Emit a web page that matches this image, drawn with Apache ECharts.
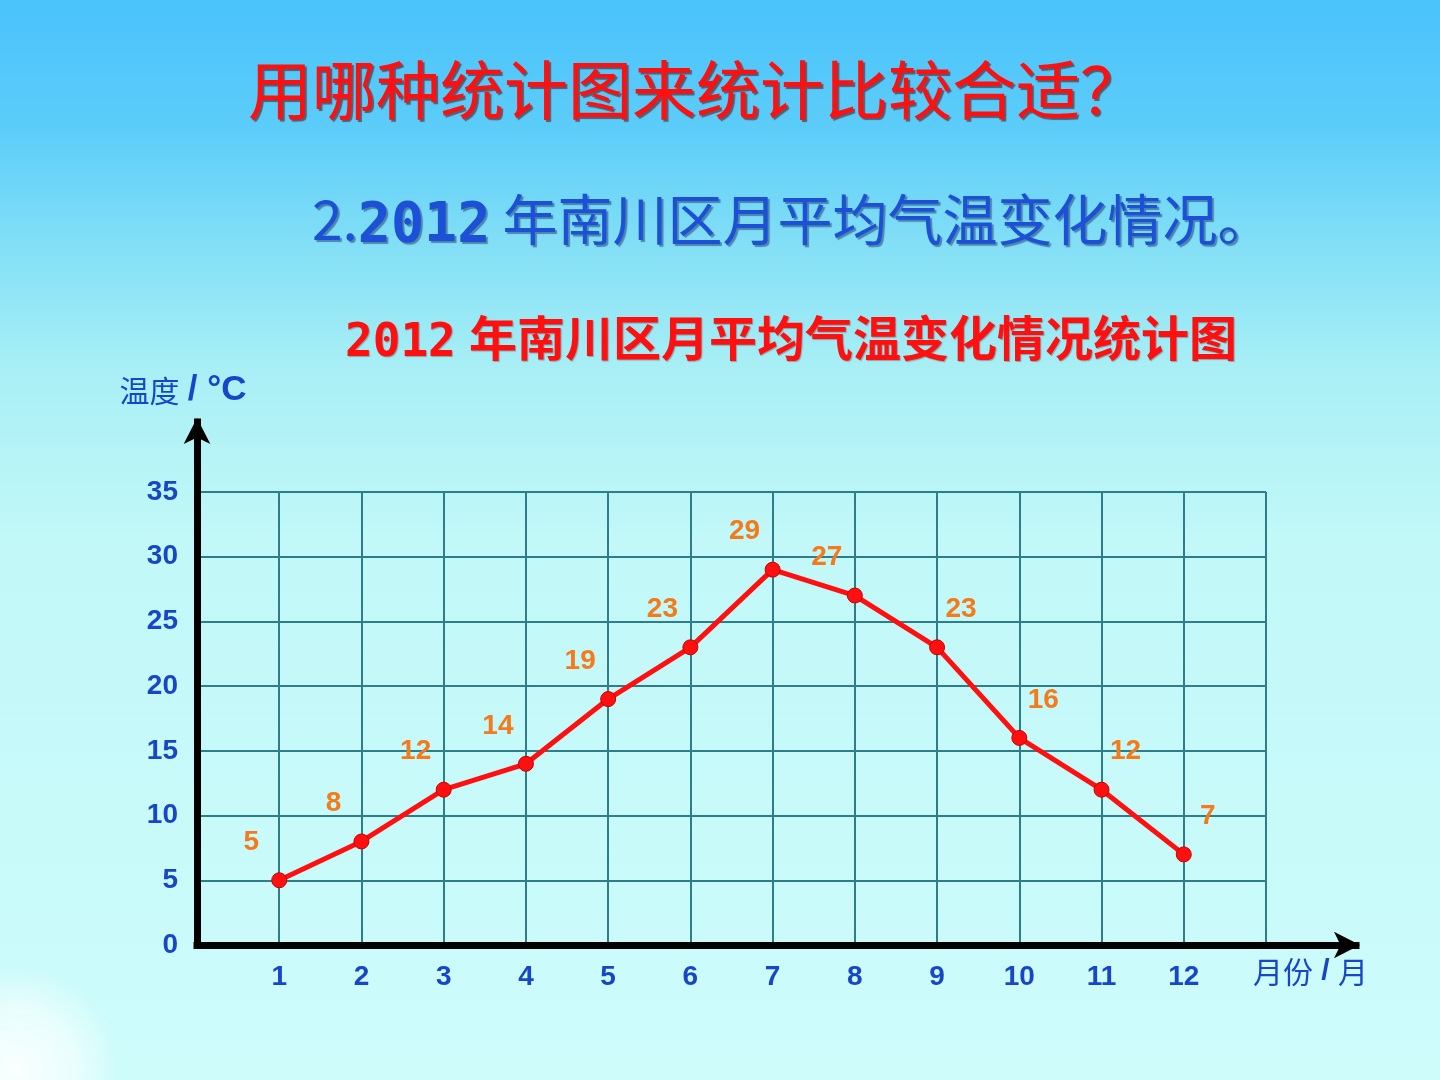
<!DOCTYPE html>
<html>
<head>
<meta charset="utf-8">
<script src="https://cdn.jsdelivr.net/npm/echarts@6/dist/echarts.min.js"></script>
<style>html,body{margin:0;padding:0;}#c{width:1440px;height:1080px;}</style>
</head>
<body>
<div id="c"></div>
<script>
const months = [1, 2, 3, 4, 5, 6, 7, 8, 9, 10, 11, 12];
const temps = [5, 8, 12, 14, 19, 23, 29, 27, 23, 16, 12, 7];
const yTicks = [0, 5, 10, 15, 20, 25, 30, 35];
const headline = '用哪种统计图来统计比较合适？';
const subNo = '2.';
const year = '2012';
const subText = '年南川区月平均气温变化情况。';
const chartText = '年南川区月平均气温变化情况统计图';
const yNameCn = '温度';
const yNameUnit = '/ °C';
const xNameCn = '月份';
const xNameUnit = '/';
const xNameTail = '月';

const CJK = '"Noto Sans CJK SC", "Liberation Sans", sans-serif';
const LAT = '"Liberation Sans", Arial, sans-serif';
const MONO = '"DejaVu Sans Mono", monospace';
const blue = '#1746c8';
const subBlue = '#1c50d6';
const red = '#ff1010';
const peakIdx = temps.indexOf(Math.max(...temps));

const blueShadow = {textShadowColor: 'rgba(0,0,60,0.4)', textShadowOffsetX: 2, textShadowOffsetY: 2, textShadowBlur: 1};
const redShadow = {textShadowColor: 'rgba(60,0,0,0.3)', textShadowOffsetX: 1, textShadowOffsetY: 1, textShadowBlur: 1};

const chart = echarts.init(document.getElementById('c'));
chart.setOption({
  backgroundColor: {
    type: 'linear', x: 0, y: 0, x2: 0, y2: 1,
    colorStops: [
      {offset: 0, color: '#4ac2fb'},
      {offset: 0.12, color: '#5ccdf9'},
      {offset: 0.22, color: '#80def6'},
      {offset: 0.34, color: '#a8eff5'},
      {offset: 0.5, color: '#c2f8f8'},
      {offset: 1, color: '#cdfcfb'}
    ]
  },
  graphic: [{
    type: 'circle', shape: {cx: 15, cy: 1070, r: 105},
    style: {fill: {type: 'radial', x: 0.5, y: 0.5, r: 0.5, colorStops: [
      {offset: 0, color: 'rgba(255,255,255,0.9)'},
      {offset: 0.6, color: 'rgba(255,255,255,0.55)'},
      {offset: 1, color: 'rgba(255,255,255,0)'}]}},
    silent: true, z: -1
  }],
  title: [
    {text: headline, left: 248, top: 58, padding: 0,
      textStyle: {fontFamily: CJK, fontSize: 64, fontWeight: 'normal', color: red,
        textShadowColor: 'rgba(80,0,0,0.55)', textShadowOffsetX: 2, textShadowOffsetY: 2, textShadowBlur: 1}},
    {text: '{a|' + subNo + '}{n|' + year + '}{s| }{a|' + subText + '}', left: 312, top: 185, padding: 0,
      textStyle: {color: subBlue, fontWeight: 'normal',
        rich: {
          a: Object.assign({fontFamily: CJK, fontSize: 55, fontWeight: 'normal', color: subBlue}, blueShadow),
          s: {fontFamily: LAT, fontSize: 44, fontWeight: 'normal', color: subBlue},
          n: Object.assign({fontFamily: MONO, fontSize: 55, fontWeight: 'bold', color: subBlue, padding: [14, 0, 0, 0]}, blueShadow)
        }}},
    {text: '{n|' + year + '}{s| }{a|' + chartText + '}', left: 345, top: 309, padding: 0,
      textStyle: {color: red,
        rich: {
          a: Object.assign({fontFamily: CJK, fontSize: 48, fontWeight: 'bold', color: red}, redShadow),
          s: {fontFamily: LAT, fontSize: 48, fontWeight: 'normal', color: red},
          n: Object.assign({fontFamily: MONO, fontSize: 46, fontWeight: 'bold', color: red, padding: [12, 0, 0, 0]}, redShadow)
        }}}
  ],
  grid: [
    {left: 197, right: 174, top: 492, bottom: 135},
    {left: 197, right: 84, top: 422, bottom: 135}
  ],
  xAxis: [
    {type: 'value', gridIndex: 0, min: 0, max: 13, interval: 1,
      axisLine: {show: false}, axisTick: {show: false},
      splitLine: {show: true, lineStyle: {color: '#2e7d8b', width: 2}},
      axisLabel: {margin: 18, color: blue, fontSize: 28, fontWeight: 'bold', fontFamily: LAT,
        formatter: v => months.includes(v) ? String(v) : ''},
      name: '{a|' + xNameCn + '}{s| }{b|' + xNameUnit + '}{s| }{a|' + xNameTail + '}', nameLocation: 'end', nameGap: -13,
      nameTextStyle: {align: 'left', verticalAlign: 'top', padding: [12, 0, 0, 0],
        rich: {a: {fontFamily: CJK, fontSize: 30, color: blue},
               s: {fontFamily: LAT, fontSize: 30, color: blue},
               b: {fontFamily: LAT, fontSize: 30, fontWeight: 'bold', color: blue}}}},
    {type: 'value', gridIndex: 1, min: 0, max: 1,
      axisLine: {show: true, symbol: ['none', 'arrow'], symbolSize: [20, 26], symbolOffset: [0, 4],
        lineStyle: {color: '#000', width: 7, cap: 'square'}},
      axisTick: {show: false}, axisLabel: {show: false}, splitLine: {show: false}}
  ],
  yAxis: [
    {type: 'value', gridIndex: 0, min: 0, max: 35, interval: 5,
      axisLine: {show: false}, axisTick: {show: false},
      splitLine: {show: true, lineStyle: {color: '#2e7d8b', width: 2}},
      axisLabel: {margin: 19, color: blue, fontSize: 28, fontWeight: 'bold', fontFamily: LAT,
        padding: [0, 0, 12, 0],
        formatter: v => yTicks.includes(v) ? String(v) : ''}},
    {type: 'value', gridIndex: 1, min: 0, max: 1,
      axisLine: {show: true, symbol: ['none', 'arrow'], symbolSize: [20, 26], symbolOffset: [0, 4],
        lineStyle: {color: '#000', width: 7, cap: 'square'}},
      axisTick: {show: false}, axisLabel: {show: false}, splitLine: {show: false},
      name: '{a|' + yNameCn + '}{s| }{b|' + yNameUnit + '}', nameLocation: 'end', nameGap: 14,
      nameTextStyle: {align: 'center', padding: [0, 28, 0, 0],
        rich: {a: {fontFamily: CJK, fontSize: 30, color: blue},
               s: {fontFamily: LAT, fontSize: 30, color: blue},
               b: {fontFamily: LAT, fontSize: 35, fontWeight: 'bold', color: blue}}}}
  ],
  series: [{
    type: 'line', xAxisIndex: 0, yAxisIndex: 0,
    data: months.map((m, i) => ({
      value: [m, temps[i]],
      label: {offset: i <= peakIdx + 1 ? [-28, -6] : [24, -6]}
    })),
    lineStyle: {color: red, width: 5},
    itemStyle: {color: red, borderColor: '#c80000', borderWidth: 1},
    symbol: 'circle', symbolSize: 15,
    label: {show: true, position: 'top', distance: 10, color: '#f47a1c', fontSize: 28, fontWeight: 'bold',
      fontFamily: LAT, formatter: p => String(p.value[1])},
    z: 5
  }]
});
</script>
</body>
</html>
